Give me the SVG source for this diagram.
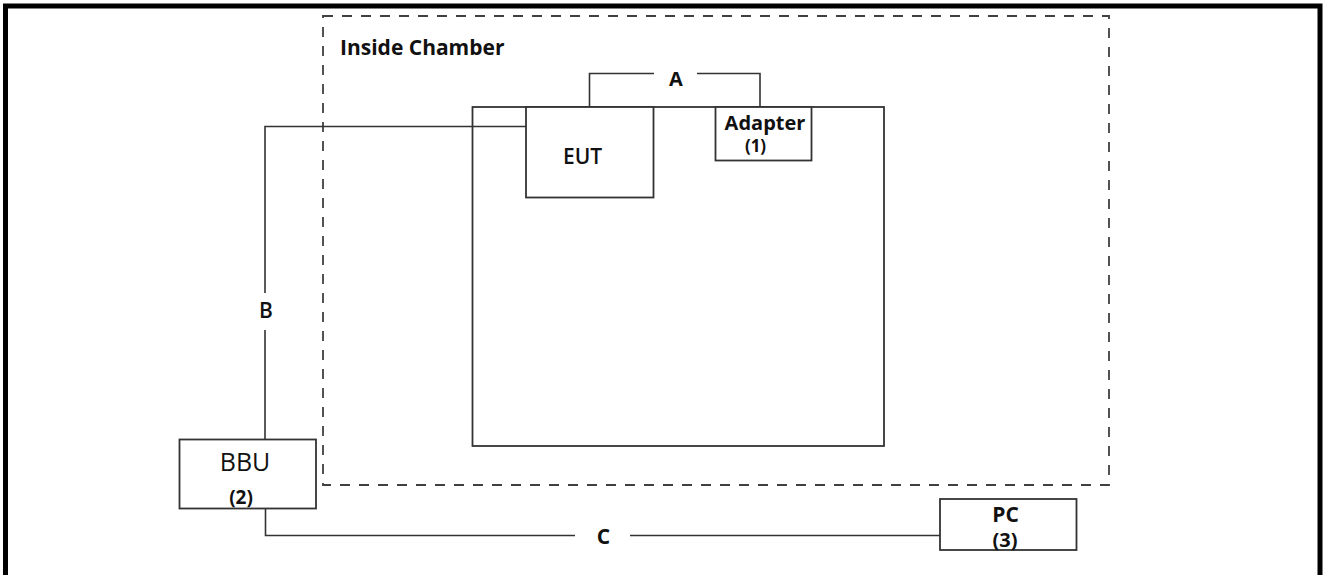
<svg xmlns="http://www.w3.org/2000/svg" width="1327" height="575" viewBox="0 0 1327 575">
<style>
.box{fill:#fff;stroke:#333;stroke-width:1.8}
.wire{fill:none;stroke:#333;stroke-width:1.6}
.t{font-family:"Open Sans","Noto Sans",sans-serif;fill:#111;text-anchor:middle}
.b{font-weight:bold}
</style>
<rect width="1327" height="575" fill="#fff"/>
<rect x="5.5" y="6" width="1314.5" height="590" fill="none" stroke="#000" stroke-width="5"/>
<g id="chamber">
<rect x="323" y="16" width="786" height="469" fill="none" stroke="#404040" stroke-width="1.8" stroke-dasharray="10 9"/>
<text class="t b" x="340" y="55" font-size="21" style="text-anchor:start">Inside Chamber</text>
</g>
<g id="table">
<rect class="box" x="472.5" y="107" width="411.5" height="339"/>
</g>
<g id="connectors">
<path class="wire" d="M589.5 107 V73.5 H654 M697 73.5 H760 V107"/>
<path class="wire" d="M526 126.5 H265 V293 M265 330 V439"/>
<path class="wire" d="M265.5 508 V535.5 H575 M630 535.5 H940"/>
<text class="t b" x="676" y="86" font-size="20">A</text>
<text class="t" x="266" y="318" font-size="21" font-weight="600">B</text>
<text class="t b" x="603.5" y="544" font-size="21">C</text>
</g>
<g id="eut">
<rect class="box" x="526" y="107" width="127.5" height="90.5"/>
<text class="t" x="582.5" y="163.5" font-size="21" font-weight="600">EUT</text>
</g>
<g id="adapter">
<rect class="box" x="715.5" y="107" width="96" height="53.5"/>
<text class="t b" x="765" y="129.5" font-size="20">Adapter</text>
<text class="t b" x="755.5" y="152" font-size="17">(1)</text>
</g>
<g id="bbu">
<rect class="box" x="179.5" y="439.5" width="136.5" height="69"/>
<text class="t" x="245" y="470.5" font-size="25" fill="#222">BBU</text>
<text class="t b" x="241" y="504" font-size="19">(2)</text>
</g>
<g id="pc">
<rect class="box" x="940" y="499" width="136.5" height="51"/>
<text class="t b" x="1005.5" y="521.5" font-size="21">PC</text>
<text class="t b" x="1005" y="546.5" font-size="20">(3)</text>
</g>
</svg>
